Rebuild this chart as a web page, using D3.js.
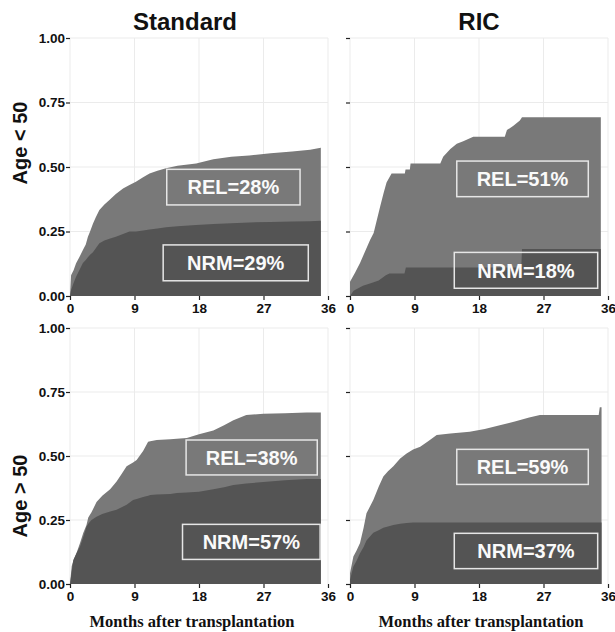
<!DOCTYPE html>
<html lang="en">
<head>
<meta charset="utf-8">
<title>Cumulative incidence of NRM and relapse</title>
<style>
  body { margin: 0; padding: 0; background: #fff; }
  svg { display: block; }
  .tick text { font-family: "Liberation Sans", Arial, sans-serif; font-weight: bold; font-size: 13.5px; fill: #111; }
  .tick line { stroke: #222; stroke-width: 1.2; }
  .title { font-family: "Liberation Sans", Arial, sans-serif; font-weight: bold; font-size: 24px; fill: #111; }
  .ylab { font-family: "Liberation Sans", Arial, sans-serif; font-weight: bold; font-size: 20px; fill: #111; }
  .xlab { font-family: "Liberation Serif", "Times New Roman", serif; font-weight: bold; font-size: 16.5px; fill: #111; }
  .boxtext { font-family: "Liberation Sans", Arial, sans-serif; font-weight: bold; font-size: 20px; fill: #fafafa; }
</style>
<script src="https://cdn.jsdelivr.net/npm/d3@7"></script>
</head>
<body>
<svg id="chart" width="615" height="632"></svg>
<script>
// data: cumulative NRM, and NRM + relapse stacked on top
const conditioning = ['Standard', 'RIC'];
const ageGroups = ['Age < 50', 'Age > 50'];
const xTicks = [0, 9, 18, 27, 36];
const yTicks = [0, 0.25, 0.5, 0.75, 1];
const xTitle = 'Months after transplantation';

const monthsStdYoung = [0, 0.15, 0.5, 0.85, 1.3, 1.8, 2.2, 2.5, 2.8, 3.2, 3.6, 4.1, 4.8, 5.5, 6.4, 7.4, 8.3, 9.2, 10.2, 11.1, 12.2, 13.4, 15, 17.6, 20, 22.5, 25, 28, 31, 33.5, 35];
const totalStdYoung = [0, 0.08, 0.1, 0.127, 0.15, 0.178, 0.2, 0.23, 0.25, 0.28, 0.305, 0.333, 0.355, 0.372, 0.395, 0.417, 0.43, 0.443, 0.46, 0.475, 0.485, 0.495, 0.505, 0.514, 0.53, 0.54, 0.545, 0.553, 0.56, 0.567, 0.575];
const nrmStdYoung = [0, 0.023, 0.05, 0.075, 0.1, 0.128, 0.14, 0.15, 0.16, 0.17, 0.185, 0.204, 0.215, 0.222, 0.23, 0.24, 0.25, 0.25, 0.254, 0.258, 0.262, 0.266, 0.27, 0.275, 0.279, 0.282, 0.285, 0.287, 0.289, 0.29, 0.292];

const monthsTotalRicYoung = [0, 0.7, 1.4, 2.8, 3.3, 4.2, 4.7, 5.1, 5.8, 7.65, 7.75, 8.35, 8.45, 12.6, 13.0, 14.0, 14.9, 15.8, 17.2, 21.6, 21.9, 22.8, 23.7, 24.0, 35];
const totalRicYoung = [0.055, 0.09, 0.128, 0.217, 0.244, 0.346, 0.4, 0.44, 0.475, 0.475, 0.49, 0.49, 0.514, 0.514, 0.54, 0.57, 0.59, 0.6, 0.617, 0.617, 0.643, 0.66, 0.68, 0.693, 0.693];
const monthsNrmRicYoung = [0, 0.5, 1.8, 3.0, 4.0, 5.0, 5.5, 7.6, 7.8, 23.9, 24.0, 35];
const nrmRicYoung = [0, 0.02, 0.04, 0.05, 0.06, 0.08, 0.087, 0.087, 0.11, 0.11, 0.182, 0.182];

const monthsStdOld = [0, 0.24, 0.46, 0.9, 1.4, 1.86, 2.3, 2.55, 3.0, 3.7, 4.5, 5.6, 6.5, 7.2, 7.9, 8.8, 9.3, 10.2, 10.9, 11.2, 12.1, 14, 14.9, 16.3, 18, 20, 21.5, 22.8, 24.6, 27, 30, 33, 35];
const totalStdOld = [0, 0.07, 0.09, 0.12, 0.16, 0.2, 0.23, 0.26, 0.28, 0.32, 0.345, 0.37, 0.4, 0.43, 0.46, 0.475, 0.484, 0.52, 0.556, 0.558, 0.5625, 0.565, 0.567, 0.57, 0.585, 0.6, 0.62, 0.64, 0.66, 0.665, 0.667, 0.67, 0.67];
const nrmStdOld = [0, 0.05, 0.094, 0.12, 0.146, 0.185, 0.224, 0.235, 0.25, 0.263, 0.273, 0.283, 0.29, 0.3, 0.31, 0.328, 0.332, 0.34, 0.345, 0.348, 0.35, 0.352, 0.355, 0.357, 0.36, 0.37, 0.378, 0.387, 0.393, 0.398, 0.405, 0.41, 0.41];

const monthsRicOld = [0, 0.47, 0.9, 1.4, 1.9, 2.3, 3.25, 4.0, 4.65, 5.3, 6.05, 7.0, 7.9, 8.8, 9.8, 11, 12.1, 14, 16.7, 18.8, 20.9, 23, 25, 26.5, 34.7, 34.85, 35.1];
const totalRicOld = [0.042, 0.107, 0.13, 0.16, 0.22, 0.276, 0.328, 0.38, 0.42, 0.44, 0.46, 0.49, 0.51, 0.525, 0.536, 0.56, 0.582, 0.588, 0.595, 0.605, 0.62, 0.635, 0.65, 0.66, 0.66, 0.69, 0.69];
const nrmRicOld = [0.016, 0.068, 0.09, 0.12, 0.145, 0.17, 0.2, 0.21, 0.22, 0.225, 0.23, 0.235, 0.238, 0.24, 0.24, 0.24, 0.24, 0.24, 0.24, 0.24, 0.24, 0.24, 0.24, 0.24, 0.24, 0.24, 0.24];

const relLabels = ['REL=28%', 'REL=51%', 'REL=38%', 'REL=59%'];
const nrmLabels = ['NRM=29%', 'NRM=18%', 'NRM=57%', 'NRM=37%'];

// layout (pixels) and label box placement (data units: [t0, t1, yTop, yBottom])
const cols = [[70, 328], [350, 608]];
const rows = [[296, 38], [584, 328]];
const relBoxes = [[13.5, 32.1, 0.491, 0.353], [14.9, 33.25, 0.523, 0.385], [16.2, 34.5, 0.5625, 0.426], [14.9, 33.25, 0.526, 0.389]];
const nrmBoxes = [[13.0, 33.25, 0.198, 0.059], [14.55, 34.56, 0.169, 0.030], [15.7, 34.9, 0.233, 0.096], [14.55, 34.56, 0.198, 0.060]];

const colNrm = '#545454';
const colRel = '#797979';

const panels = [
  { row: 0, col: 0, tTotal: monthsStdYoung, total: totalStdYoung, tNrm: monthsStdYoung, nrm: nrmStdYoung },
  { row: 0, col: 1, tTotal: monthsTotalRicYoung, total: totalRicYoung, tNrm: monthsNrmRicYoung, nrm: nrmRicYoung },
  { row: 1, col: 0, tTotal: monthsStdOld, total: totalStdOld, tNrm: monthsStdOld, nrm: nrmStdOld },
  { row: 1, col: 1, tTotal: monthsRicOld, total: totalRicOld, tNrm: monthsRicOld, nrm: nrmRicOld }
];

const svg = d3.select('#chart');

panels.forEach(function(p, i) {
  const x = d3.scaleLinear().domain([0, 36]).range(cols[p.col]);
  const y = d3.scaleLinear().domain([0, 1]).range(rows[p.row]);
  const g = svg.append('g');

  // grid
  g.selectAll('.hgrid').data(yTicks.slice(1)).enter().append('line')
    .attr('x1', x(0)).attr('x2', x(36))
    .attr('y1', d => y(d)).attr('y2', d => y(d))
    .attr('stroke', '#ebebeb').attr('stroke-width', 1);
  g.selectAll('.vgrid').data(xTicks).enter().append('line')
    .attr('x1', d => x(d)).attr('x2', d => x(d))
    .attr('y1', y(0)).attr('y2', y(1))
    .attr('stroke', '#ebebeb').attr('stroke-width', 1);

  const area = d3.area().x(d => x(d[0])).y0(y(0)).y1(d => y(d[1]));

  g.append('path').datum(d3.zip(p.tTotal, p.total))
    .attr('fill', colRel).attr('d', area);
  g.append('path').datum(d3.zip(p.tNrm, p.nrm))
    .attr('fill', colNrm).attr('d', area);

  // label boxes
  [[relBoxes[i], relLabels[i]], [nrmBoxes[i], nrmLabels[i]]].forEach(function(b) {
    const box = b[0];
    const bx = x(box[0]), bw = x(box[1]) - x(box[0]);
    const by = y(box[2]), bh = y(box[3]) - y(box[2]);
    g.append('rect')
      .attr('x', bx).attr('y', by).attr('width', bw).attr('height', bh)
      .attr('fill', 'none').attr('stroke', '#e6e6e6').attr('stroke-width', 1.5);
    g.append('text').attr('class', 'boxtext')
      .attr('x', bx + bw / 2).attr('y', by + bh / 2)
      .attr('dy', '0.36em').attr('text-anchor', 'middle')
      .text(b[1]);
  });

  // axes
  const yAxis = d3.axisLeft(y).tickValues(yTicks).tickSize(4).tickPadding(1)
    .tickFormat(p.col === 0 ? d3.format('.2f') : '');
  g.append('g').attr('transform', `translate(${x(0)},0)`).call(yAxis)
    .call(a => a.select('.domain').remove());

  const xAxis = d3.axisBottom(x).tickValues(xTicks).tickSize(4).tickPadding(3);
  g.append('g').attr('transform', `translate(0,${y(0)})`).call(xAxis)
    .call(a => a.select('.domain').remove());
});

// column titles
const titleX = [185, 479];
conditioning.forEach(function(t, c) {
  svg.append('text').attr('class', 'title')
    .attr('x', titleX[c]).attr('y', 30).attr('text-anchor', 'middle').text(t);
});

// row titles
const rowLabelY = [143, 496];
ageGroups.forEach(function(t, r) {
  svg.append('text').attr('class', 'ylab')
    .attr('transform', `translate(27,${rowLabelY[r]}) rotate(-90)`)
    .attr('text-anchor', 'middle').text(t);
});

// x titles
const xTitleX = [192, 481];
xTitleX.forEach(function(cx) {
  svg.append('text').attr('class', 'xlab')
    .attr('x', cx).attr('y', 627).attr('text-anchor', 'middle').text(xTitle);
});
</script>
</body>
</html>
